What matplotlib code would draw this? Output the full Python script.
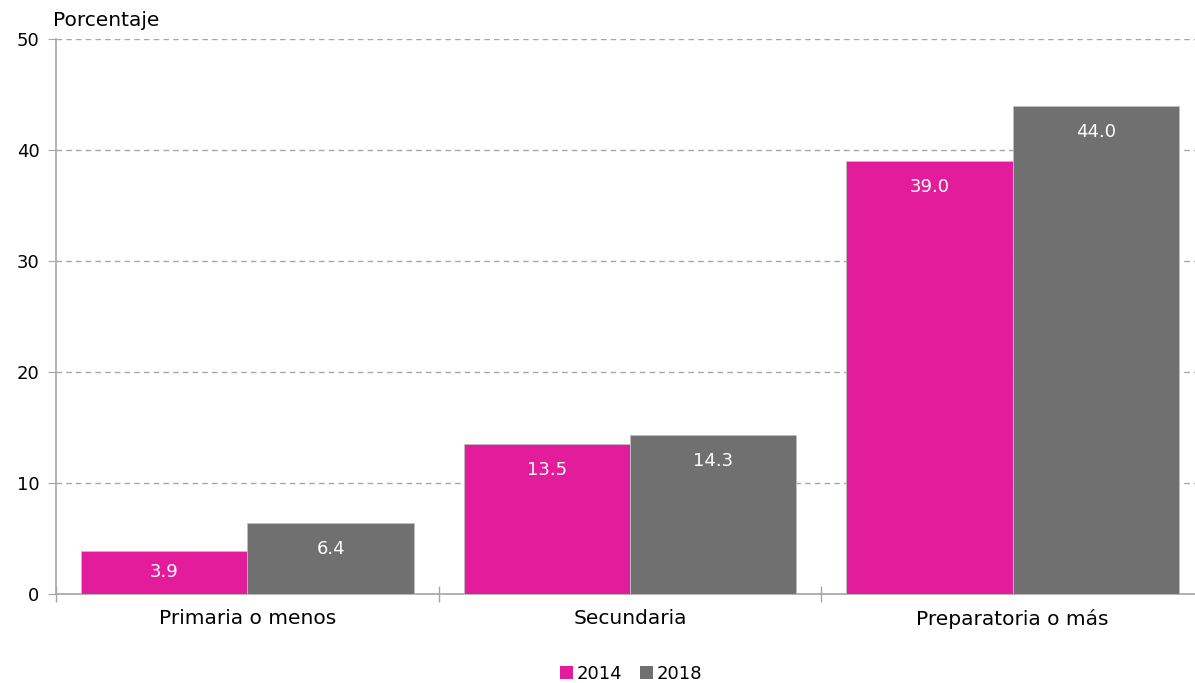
import matplotlib
matplotlib.use("Agg")
import matplotlib.pyplot as plt
import numpy as np
from matplotlib.patches import Patch

categories = ["Primaria o menos", "Secundaria", "Preparatoria o más"]
series_names = ["2014", "2018"]
values_2014 = [3.9, 13.5, 39.0]
values_2018 = [6.4, 14.3, 44.0]
colors = ["#e31c9c", "#707070"]

plt.rcParams['font.family'] = ['DejaVu Sans']

fig = plt.figure(figsize=(11.95, 6.83), dpi=100)
ax = fig.add_axes([56/1195, 1-594/683, (1204-56)/1195, (594-39)/683])

x = np.arange(len(categories))
w = 0.435
grid_c = "#a6a6a6"

for vals, off, c in [(values_2014, -w/2, colors[0]), (values_2018, w/2, colors[1])]:
    ax.bar(x + off, vals, width=w, color=c, edgecolor="#bfbfbf", linewidth=0.6, zorder=3)
    for xi, v in zip(x + off, vals):
        ly = max(v - 2.34, v / 2)
        ax.text(xi, ly, f"{v:.1f}", ha="center", va="center", color="white", fontsize=13, zorder=4)

ax.set_xlim(-0.5, 2.5)
ax.set_ylim(0, 50)
ax.set_yticks([0, 10, 20, 30, 40, 50])
ax.set_xticks(x)
ax.set_xticklabels(categories, fontsize=14.5)
ax.set_xticks([-0.5, 0.5, 1.5, 2.5], minor=True)
ax.tick_params(axis="x", which="major", length=0, pad=11)
ax.tick_params(axis="x", which="minor", length=12, direction="inout", color=grid_c, width=1)
ax.tick_params(axis="y", length=6, color=grid_c, labelsize=13, pad=6)

ax.yaxis.grid(True, linestyle=(0, (4, 3)), color=grid_c, linewidth=1, zorder=0)
ax.set_axisbelow(True)
for s in ["top", "right"]:
    ax.spines[s].set_visible(False)
for s in ["left", "bottom"]:
    ax.spines[s].set_color(grid_c)
    ax.spines[s].set_linewidth(1.2)

fig.text(53/1195, 1-21/683, "Porcentaje", fontsize=14.5, ha="left", va="center")

handles = [Patch(facecolor=colors[0]), Patch(facecolor=colors[1])]
fig.legend(handles, series_names, loc="center", bbox_to_anchor=(631/1195, 1-674/683),
           ncol=2, frameon=False, fontsize=13, handlelength=0.7, handleheight=0.7,
           handletextpad=0.2, columnspacing=1.0)

fig.savefig("out.png", dpi=100)
